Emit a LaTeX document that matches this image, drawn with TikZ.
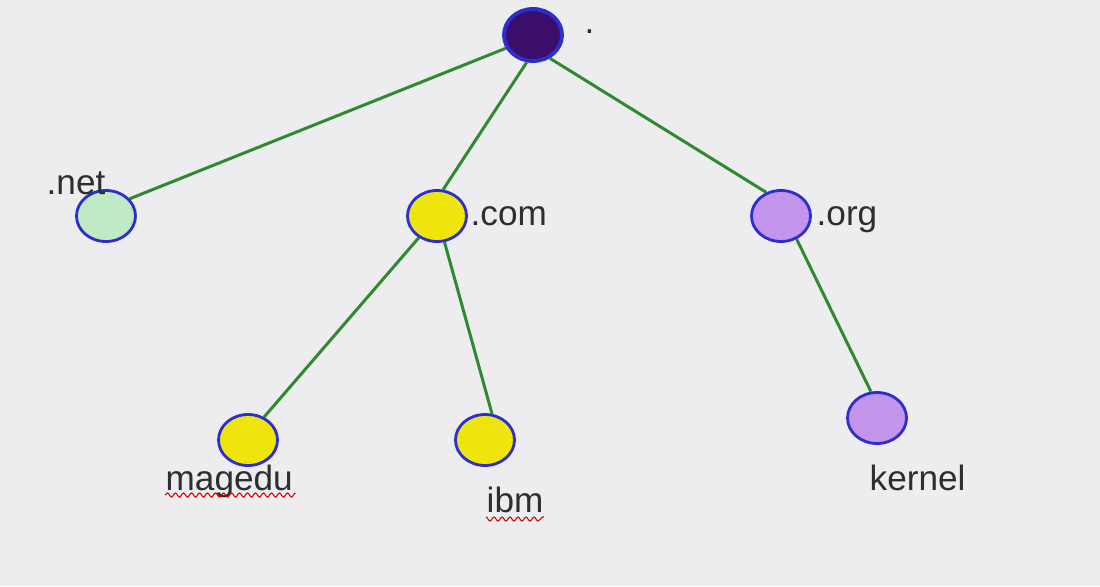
\documentclass[tikz,border=0pt]{standalone}
\usepackage{fontspec}
\setmainfont{Liberation Sans}
\usetikzlibrary{shapes.geometric,positioning,backgrounds,decorations.pathmorphing}
\definecolor{bggray}{HTML}{EDECEE}
\definecolor{edgegreen}{HTML}{2F8A2F}
\definecolor{ringblue}{HTML}{2E2ED0}
\definecolor{rootpurple}{HTML}{3B0E6C}
\definecolor{netgreen}{HTML}{BEEBC4}
\definecolor{comyellow}{HTML}{EEE60A}
\definecolor{orgviolet}{HTML}{C294EC}
\definecolor{txtgray}{HTML}{2E2E2E}

\begin{document}
\begin{tikzpicture}[x=0.1mm,y=-0.1mm,
  dom/.style={ellipse,draw=ringblue,line width=0.8pt,minimum width=5.9mm,minimum height=5.1mm,inner sep=0pt},
  lbl/.style={text=txtgray,font=\fontsize{10}{12}\selectfont,inner sep=0pt},
  link/.style={edgegreen,line width=0.85pt},
  typo/.style={red!85!black,line width=0.3pt,decorate,decoration={snake,amplitude=0.2mm,segment length=0.8mm}}]
\useasboundingbox(0,0)rectangle(1100,586);
% tree nodes
\node[dom,fill=rootpurple,line width=1.1pt,minimum width=5.8mm,minimum height=5.2mm](root)at(533,35){};
\node[dom,fill=netgreen](net)at(106,216){};
\node[dom,fill=comyellow](com)at(437,216){};
\node[dom,fill=orgviolet](org)at(781,216){};
\node[dom,fill=comyellow](magedu)at(248,440){};
\node[dom,fill=comyellow](ibm)at(485,440){};
\node[dom,fill=orgviolet](kernel)at(877,418){};
% names
\node[lbl,anchor=base west](rootlbl)at(584,34){.};
\node[lbl,anchor=base west](netlbl)at(46,195){.net};
\node[lbl,anchor=base west](comlbl)at(470,226){.com};
\node[lbl,anchor=base west](orglbl)at(816,226){.org};
\node[lbl,anchor=base west](magedulbl)at(165,490){magedu};
\node[lbl,anchor=base west](ibmlbl)at(486,512){ibm};
\node[lbl,anchor=base west](kernellbl)at(869,490){kernel};
\draw[typo]([yshift=-0.5mm]magedulbl.base west)--([yshift=-0.5mm]magedulbl.base east)
  ([yshift=-0.5mm]ibmlbl.base west)--([yshift=-0.5mm]ibmlbl.base east);
\begin{scope}[on background layer]
\fill[bggray](0,0)rectangle(1100,586);
\draw[link](root.206)--(net.36) (root.257)--(com.77) (root.306)--(org.122)
  (com.230)--(magedu.55) (com.286)--(ibm.75) (org.304)--(kernel.103);
\end{scope}
\end{tikzpicture}
\end{document}
